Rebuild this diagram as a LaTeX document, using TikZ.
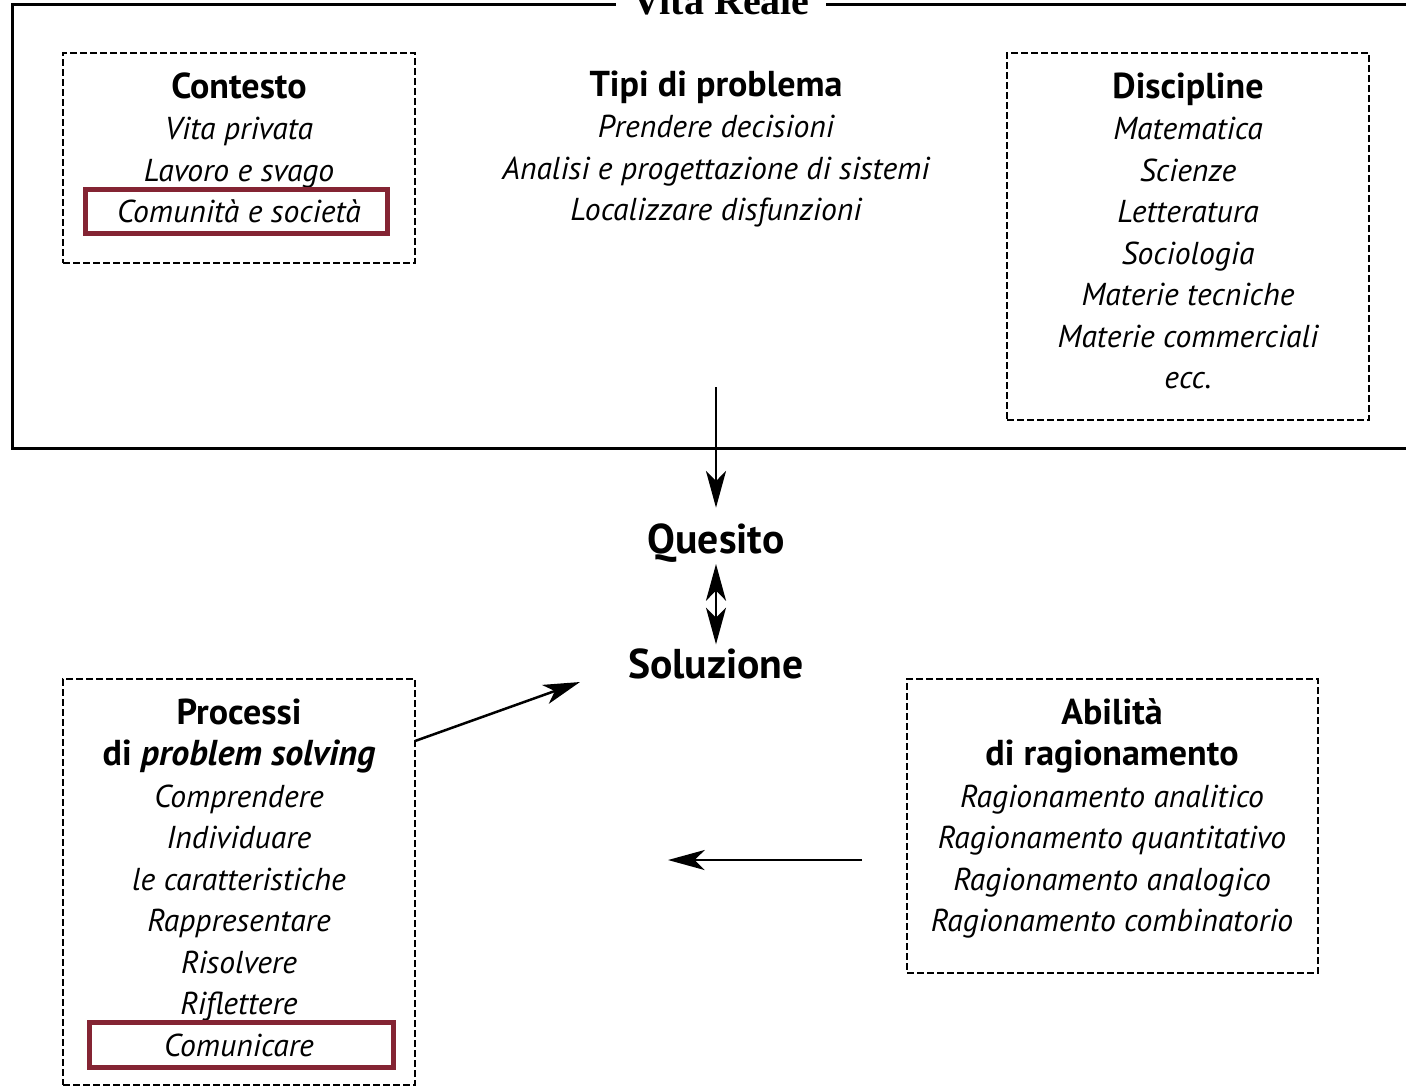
\documentclass[tikz,border=0pt]{standalone}
\usepackage{fontspec}
\setmainfont{PT Sans}
\newfontfamily\titlefont{Liberation Serif}
\usetikzlibrary{arrows.meta}
\definecolor{wine}{HTML}{842433}

\begin{document}
\begin{tikzpicture}[x=0.3pt, y=-0.3pt, node distance=12.45pt,
		head/.style = {font=\bfseries\fontsize{10.8}{12}\selectfont, inner sep=0pt, text height=7.5pt, text depth=2pt},
		item/.style = {font=\itshape\fontsize{9.5}{11}\selectfont, inner sep=0pt, text height=7.5pt, text depth=2pt},
		big/.style = {font=\bfseries\fontsize{12.5}{14}\selectfont, inner xsep=1pt, inner ysep=4.5pt, text height=9pt, text depth=1pt},
		dashbox/.style = {draw, dash pattern=on 2pt off 1pt, line width=0.35pt, inner sep=0pt, outer sep=0pt},
		redbox/.style = {draw=wine, line width=1.7pt, inner sep=0pt},
		arr/.style = {-{Stealth[length=11pt, width=6pt, inset=3pt]}, line width=0.75pt},
		dblarr/.style = {{Stealth[length=11pt, width=6pt, inset=3pt]}-{Stealth[length=11pt, width=6pt, inset=3pt]}, line width=0.75pt}]
		\useasboundingbox (0,0) rectangle (1406,1087);
		
		% Vita Reale
		\draw[line width=0.9pt] (1430,4) -- (12,4) -- (12,448) -- (1430,448);
		\node[fill=white, anchor=base, inner xsep=5pt, inner ysep=2pt] (vita) at (721,14) {\titlefont\bfseries\fontsize{12}{14}\selectfont Vita Reale};
		
		\node[head] (cont) at (239,89) {Contesto};
		\node[item] (cont1) [below of=cont] {Vita privata};
		\node[item] (cont2) [below of=cont1] {Lavoro e svago};
		\node[item] (cont3) [below of=cont2] {Comunità e società};
		\node[redbox, minimum width=90.6pt, minimum height=13.2pt] (contred) at (236.5,211.5) {};
		\node[dashbox, minimum width=105.6pt, minimum height=63pt] (contbox) at (239,158) {};
		
		\node[head] (tipi) at (716,87) {Tipi di problema};
		\node[item] (tipi1) [below of=tipi] {Prendere decisioni};
		\node[item] (tipi2) [below of=tipi1] {Analisi e progettazione di sistemi};
		\node[item] (tipi3) [below of=tipi2] {Localizzare disfunzioni};
		
		\node[head] (disc) at (1188,89) {Discipline};
		\node[item] (disc1) [below of=disc] {Matematica};
		\node[item] (disc2) [below of=disc1] {Scienze};
		\node[item] (disc3) [below of=disc2] {Letteratura};
		\node[item] (disc4) [below of=disc3] {Sociologia};
		\node[item] (disc5) [below of=disc4] {Materie tecniche};
		\node[item] (disc6) [below of=disc5] {Materie commerciali};
		\node[item] (disc7) [below of=disc6] {ecc.};
		\node[dashbox, minimum width=108.6pt, minimum height=110.1pt] (discbox) at (1188,236.5) {};
		
		\node[big] (ques) at (716,540) {Quesito};
		\node[big] (sol) at (716,665) {Soluzione};
		
		\node[head] (proc) at (239,715) {Processi};
		\node[head] (proc1) [below of=proc] {di \textit{problem solving}};
		\node[item] (proc2) [below of=proc1] {Comprendere};
		\node[item] (proc3) [below of=proc2] {Individuare};
		\node[item] (proc4) [below of=proc3] {le caratteristiche};
		\node[item] (proc5) [below of=proc4] {Rappresentare};
		\node[item] (proc6) [below of=proc5] {Risolvere};
		\node[item] (proc7) [below of=proc6] {Riflettere};
		\node[item] (proc8) [below of=proc7] {Comunicare};
		\node[redbox, minimum width=91.2pt, minimum height=13.5pt] (procred) at (241.5,1045) {};
		\node[dashbox, minimum width=105.6pt, minimum height=121.8pt] (procbox) at (239,882) {};
		
		\node[head] (abil) at (1112,715) {Abilità};
		\node[head] (abil1) [below of=abil] {di ragionamento};
		\node[item] (abil2) [below of=abil1] {Ragionamento analitico};
		\node[item] (abil3) [below of=abil2] {Ragionamento quantitativo};
		\node[item] (abil4) [below of=abil3] {Ragionamento analogico};
		\node[item] (abil5) [below of=abil4] {Ragionamento combinatorio};
		\node[dashbox, minimum width=123.3pt, minimum height=88.2pt] (abilbox) at (1112.5,826) {};
		
		\coordinate (vitaout) at (716,387);
		\coordinate (solin) at (580,682);
		\coordinate (abilout) at (862,860);
		\coordinate (procin) at (668,860);
		\draw[arr] (vitaout) -- (ques);
		\draw[dblarr, shorten <=-2.5pt, shorten >=-3.5pt] (ques) -- (sol);
		\draw[arr] ([yshift=-18.6pt]procbox.north east) -- (solin);
		\draw[arr] (abilout) -- (procin);
	\end{tikzpicture}
\end{document}
